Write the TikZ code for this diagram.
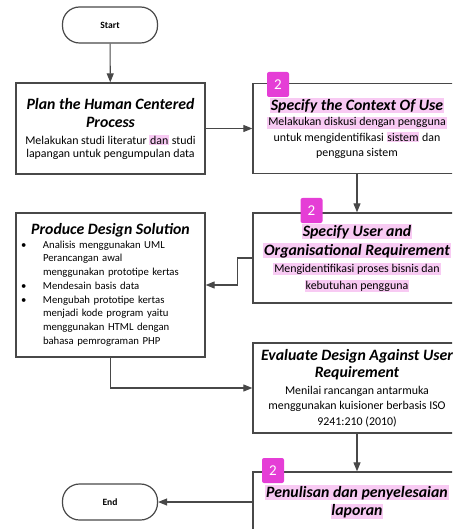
\documentclass[tikz,border=0pt]{standalone}
\usepackage{fontspec}
\setmainfont{Carlito}
\usepackage{xcolor}
\usepackage{tikz}
\usetikzlibrary{arrows.meta}
\definecolor{linegray}{RGB}{72,72,72}
\definecolor{hlpink}{RGB}{248,202,243}
\definecolor{tagmagenta}{RGB}{229,62,214}
\setlength{\fboxsep}{0.8pt}
\newcommand{\hl}[1]{\colorbox{hlpink}{#1}}
\newcommand{\ttl}{\fontsize{15.8}{18}\selectfont\bfseries\itshape}
\newcommand{\bul}{\makebox[22pt][l]{\textbullet}}
\newcommand{\ind}{\hspace*{22pt}}

\begin{document}
\begin{tikzpicture}[x=1pt, y=-1pt,
    term/.style={rectangle, rounded corners=17pt, draw=linegray, line width=1.2pt,
                 minimum width=95pt, minimum height=36pt, font=\fontsize{9.6}{11}\selectfont\bfseries},
    box/.style={rectangle, draw=linegray, line width=1.3pt, align=center,
                font=\fontsize{11.9}{15.5}\selectfont},
    tag/.style={rectangle, rounded corners=2pt, fill=tagmagenta, text=white, inner sep=0pt,
                minimum width=22pt, minimum height=25pt, font=\fontsize{15}{15}\selectfont},
    arrow/.style={-{Triangle[length=9pt,width=7pt]}, line width=1.1pt, draw=linegray}
]
\useasboundingbox (0,0) rectangle (452,529);
\clip (0,0) rectangle (452,529);

\node[term] (start)  at (110,25)    {Start};
\node[box, minimum width=189pt, minimum height=91pt, font=\fontsize{11.9}{13}\selectfont]
  (plan) at (110.5,128.5)
  {{\ttl Plan the Human Centered}\\[5pt]{\ttl Process}\\[4pt]
   Melakukan studi literatur \hl{dan} studi\\lapangan untuk pengumpulan data};
\node[box, minimum width=208pt, minimum height=90pt] (context) at (357,128.5)
  {{\ttl \hl{Specify the Context Of Use}}\\
   \hl{Melakukan diskusi dengan pengguna}\\untuk mengidentifikasi \hl{sistem} dan\\pengguna sistem};
\node[box, minimum width=208pt, minimum height=90pt, font=\fontsize{11.9}{17}\selectfont]
  (userreq) at (357,258)
  {{\ttl \hl{Specify User and}}\\[2pt]{\ttl \hl{Organisational Requirement}}\\
   \hl{Mengidentifikasi proses bisnis dan}\\\hl{kebutuhan pengguna}};
\node[box, minimum width=189pt, minimum height=144pt, align=left, text width=179pt,
      inner xsep=5pt, font=\fontsize{10.7}{13.7}\selectfont] (produce) at (110.5,285)
  {{\centering\ttl Produce Design Solution\par}
   \bul Analisis menggunakan UML\\
   \ind Perancangan awal\\
   \ind menggunakan prototipe kertas\\
   \bul Mendesain basis data\\
   \bul Mengubah prototipe kertas\\
   \ind menjadi kode program yaitu\\
   \ind menggunakan HTML dengan\\[0.5pt]
   \ind bahasa pemrograman PHP};
\node[box, minimum width=208pt, minimum height=90pt] (evaluate) at (357,388)
  {{\ttl Evaluate Design Against User}\\[1.5pt]{\ttl Requirement}\\[1.5pt]
   Menilai rancangan antarmuka\\menggunakan kuisioner berbasis ISO\\9241:210 (2010)};
\node[box, minimum width=208pt, minimum height=60pt] (report) at (357,502)
  {{\ttl \hl{Penulisan dan penyelesaian}}\\[3pt]{\ttl \hl{laporan}}};
\node[term] (finish) at (110,502)   {End};

\node[tag] (tag1) at (278,84.5)   {2};
\node[tag] (tag2) at (311.5,210.5) {2};
\node[tag] (tag3) at (273,470.5)  {2};

\draw[arrow] (start) -- (plan);
\draw[arrow] (plan) -- (context);
\draw[arrow] (context) -- (userreq);
\draw[arrow] (userreq.west) -- ++(-15,0) |- (produce.east);
\draw[arrow] (produce.south) |- (evaluate.west);
\draw[arrow] (evaluate) -- (report);
\draw[arrow] (report.west) -- (finish.east);
\end{tikzpicture}
\end{document}
